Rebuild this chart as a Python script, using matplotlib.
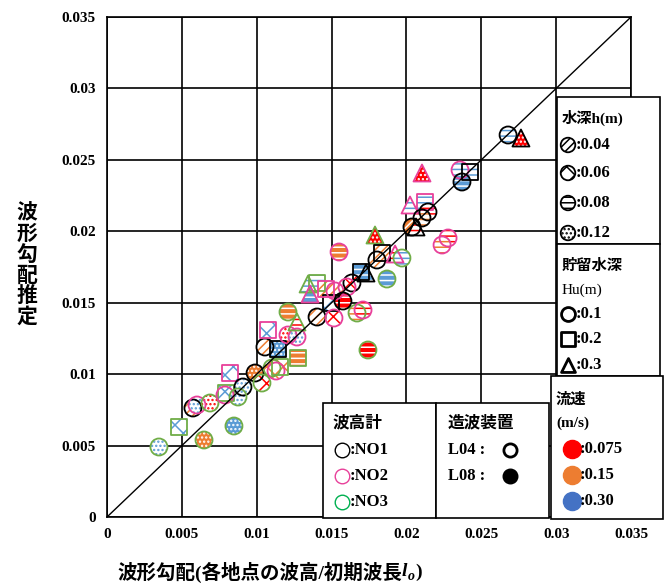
import numpy as np
import matplotlib.pyplot as plt

plt.rcParams['font.family'] = ['Liberation Serif', 'Noto Sans CJK JP']
plt.rcParams['font.weight'] = 'bold'
plt.rcParams['hatch.linewidth'] = 1.1

# observed vs. estimated wave steepness
xs = [0.00347, 0.00481, 0.00648, 0.00848, 0.00574, 0.00601, 0.00688, 0.00822, 0.00795, 0.00788,
      0.00908, 0.00875, 0.00989, 0.01035, 0.01102, 0.01129, 0.01156, 0.01276, 0.01055, 0.01142,
      0.01075, 0.01209, 0.01269, 0.01269, 0.01209, 0.01403, 0.01496, 0.01516, 0.01670, 0.01710,
      0.01743, 0.01870, 0.01550, 0.01790, 0.01837, 0.01803, 0.01924, 0.01970, 0.01697, 0.01730,
      0.01636, 0.01603, 0.01403, 0.01343, 0.01356, 0.01463, 0.01523, 0.01576, 0.02679, 0.02765,
      0.02104, 0.02358, 0.02425, 0.02371, 0.02024, 0.02124, 0.02144, 0.02104, 0.02037, 0.02064,
      0.02278, 0.02238]
ys = [0.00490, 0.00630, 0.00539, 0.00637, 0.00763, 0.00784, 0.00798, 0.01008, 0.00868, 0.00854,
      0.00910, 0.00840, 0.01008, 0.00938, 0.01043, 0.01022, 0.01050, 0.01113, 0.01190, 0.01176,
      0.01309, 0.01274, 0.01260, 0.01365, 0.01435, 0.01400, 0.01498, 0.01393, 0.01428, 0.01449,
      0.01169, 0.01666, 0.01855, 0.01974, 0.01848, 0.01799, 0.01841, 0.01813, 0.01715, 0.01708,
      0.01638, 0.01610, 0.01638, 0.01631, 0.01561, 0.01596, 0.01582, 0.01512, 0.02674, 0.02653,
      0.02408, 0.02429, 0.02415, 0.02345, 0.02184, 0.02205, 0.02135, 0.02093, 0.02030, 0.02030,
      0.01953, 0.01904]
gauge = [3, 3, 3, 3, 1, 2, 3, 2, 3, 2,
         1, 3, 1, 3, 3, 2, 3, 3, 1, 1,
         2, 2, 2, 3, 3, 1, 1, 2, 3, 2,
         3, 3, 2, 3, 1, 1, 2, 3, 1, 1,
         1, 2, 3, 3, 2, 2, 2, 1, 1, 1,
         2, 2, 1, 1, 2, 2, 1, 1, 1, 1,
         2, 2]
hu = [0.1, 0.2, 0.1, 0.1, 0.1, 0.1, 0.1, 0.2, 0.2, 0.1,
      0.1, 0.1, 0.1, 0.1, 0.1, 0.1, 0.2, 0.2, 0.1, 0.2,
      0.2, 0.1, 0.1, 0.3, 0.1, 0.1, 0.2, 0.1, 0.1, 0.1,
      0.1, 0.1, 0.1, 0.3, 0.2, 0.1, 0.3, 0.1, 0.2, 0.3,
      0.1, 0.1, 0.2, 0.3, 0.3, 0.2, 0.1, 0.1, 0.1, 0.3,
      0.3, 0.1, 0.2, 0.1, 0.3, 0.2, 0.1, 0.1, 0.1, 0.3,
      0.1, 0.1]
flow = [0.30, 0.30, 0.15, 0.30, 0.15, 0.30, 0.075, 0.30, 0.30, 0.30,
        0.30, 0.30, 0.15, 0.075, 0.15, 0.15, 0.15, 0.15, 0.15, 0.30,
        0.30, 0.075, 0.30, 0.075, 0.15, 0.15, 0.30, 0.075, 0.15, 0.075,
        0.075, 0.30, 0.15, 0.075, 0.15, 0.15, 0.075, 0.30, 0.30, 0.30,
        0.075, 0.075, 0.30, 0.30, 0.30, 0.15, 0.15, 0.075, 0.30, 0.075,
        0.075, 0.30, 0.30, 0.30, 0.30, 0.30, 0.075, 0.15, 0.15, 0.075,
        0.075, 0.15]
depth = [0.12, 0.06, 0.12, 0.12, 0.04, 0.12, 0.12, 0.06, 0.06, 0.06,
         0.12, 0.12, 0.12, 0.06, 0.06, 0.06, 0.06, 0.08, 0.04, 0.12,
         0.06, 0.12, 0.12, 0.08, 0.08, 0.04, 0.06, 0.06, 0.08, 0.08,
         0.08, 0.08, 0.08, 0.12, 0.04, 0.04, 0.08, 0.08, 0.08, 0.08,
         0.06, 0.06, 0.08, 0.08, 0.08, 0.04, 0.04, 0.08, 0.08, 0.12,
         0.12, 0.08, 0.08, 0.08, 0.08, 0.08, 0.08, 0.08, 0.04, 0.08,
         0.08, 0.08]
device = ['L04', 'L04', 'L08', 'L08', 'L04', 'L04', 'L04', 'L04', 'L04', 'L04',
          'L04', 'L04', 'L08', 'L04', 'L04', 'L04', 'L04', 'L08', 'L04', 'L08',
          'L04', 'L04', 'L04', 'L04', 'L08', 'L04', 'L04', 'L04', 'L04', 'L04',
          'L08', 'L08', 'L08', 'L08', 'L04', 'L04', 'L04', 'L04', 'L08', 'L08',
          'L04', 'L04', 'L04', 'L04', 'L08', 'L04', 'L04', 'L08', 'L04', 'L08',
          'L08', 'L04', 'L04', 'L08', 'L04', 'L04', 'L04', 'L04', 'L08', 'L04',
          'L04', 'L04']

tick_vals = [0, 0.005, 0.01, 0.015, 0.02, 0.025, 0.03, 0.035]
tick_labels = ['0', '0.005', '0.01', '0.015', '0.02', '0.025', '0.03', '0.035']

gauge_col = {1: 'black', 2: '#E8409A', 3: '#70AD47'}
flow_col = {0.075: '#FF0000', 0.15: '#ED7D31', 0.30: '#5B9BD5'}
hu_mark = {0.1: 'o', 0.2: 's', 0.3: '^'}
depth_hatch = {0.04: '////', 0.06: 'xx', 0.08: '---', 0.12: '....'}

fig = plt.figure(figsize=(6.72, 5.87), dpi=100)
ax = fig.add_axes([107/672, 70/587, 524/672, 500/587])

for i in range(len(xs)):
    m = hu_mark[hu[i]]
    s = 150 if m != 's' else 125
    fc = flow_col[flow[i]]
    if device[i] == 'L04':
        face, hcol = 'white', fc
    else:
        face, hcol = fc, 'white'
    ax.scatter(xs[i], ys[i], marker=m, s=s, facecolor=face, edgecolor=hcol,
               hatch=depth_hatch[depth[i]], linewidths=0, zorder=3)
    ax.scatter(xs[i], ys[i], marker=m, s=s, facecolor='none',
               edgecolor=gauge_col[gauge[i]], linewidths=1.3, zorder=4)

ax.plot([0, 0.035], [0, 0.035], color='black', lw=1, zorder=5)

ax.set_xlim(0, 0.035)
ax.set_ylim(0, 0.035)
ax.set_xticks(tick_vals)
ax.set_xticklabels(tick_labels)
ax.set_yticks(tick_vals)
ax.set_yticklabels(tick_labels)
ax.tick_params(length=0, labelsize=11, pad=8)
ax.grid(True, color='black', lw=1.2)
ax.set_axisbelow(True)
for sp in ax.spines.values():
    sp.set_linewidth(1.2)

# axis titles
xl = fig.text(117/672, 1 - 572/587, '波形勾配(各地点の波高/初期波長', fontsize=14,
              va='center', ha='left')
fig.canvas.draw()
bb = xl.get_window_extent()
lo = fig.text(bb.x1/672, 1 - 572/587, 'l', fontsize=14, style='italic',
              va='center', ha='left')
fig.canvas.draw()
bb2 = lo.get_window_extent()
sub = fig.text(bb2.x1/672 + 0.001, 1 - 577/587, 'o', fontsize=10, style='italic',
               va='center', ha='left')
fig.canvas.draw()
bb3 = sub.get_window_extent()
fig.text(bb3.x1/672, 1 - 572/587, ')', fontsize=14, va='center', ha='left')

fig.text(27/672, 1 - 266/587, '\n'.join('波形勾配推定'), fontsize=15,
         ha='center', va='center', linespacing=1.05)

# legend boxes drawn in pixel space
lg = fig.add_axes([0, 0, 1, 1], zorder=10)
lg.set_xlim(0, 672)
lg.set_ylim(587, 0)
lg.axis('off')


def box(x0, y0, x1, y1):
    lg.add_patch(plt.Rectangle((x0, y0), x1 - x0, y1 - y0, facecolor='white',
                               edgecolor='black', lw=1.2))


box(557, 97, 660, 244)
box(557, 244, 660, 376)
box(551, 376, 663, 519)
box(323, 403, 436, 518)
box(436, 403, 549, 518)

fs = 11
lg.text(562, 118, '水深h(m)', fontsize=fs, va='center')
for yy, d in zip([145, 173, 203, 233], [0.04, 0.06, 0.08, 0.12]):
    lg.scatter(568, yy, s=110, marker='o', facecolor='white', edgecolor='black',
               hatch=depth_hatch[d], linewidths=0)
    lg.scatter(568, yy, s=110, marker='o', facecolor='none', edgecolor='black',
               linewidths=1.3)
    lg.text(576, yy, ':%.2f' % d, fontsize=fs + 1, va='center')

lg.text(562, 266, '貯留水深', fontsize=fs, va='center')
lg.text(562, 290, 'Hu(m)', fontsize=fs, va='center', fontweight='normal')
for yy, h in zip([314, 339, 365], [0.1, 0.2, 0.3]):
    lg.scatter(568, yy, s=100, marker=hu_mark[h], facecolor='white',
               edgecolor='black', linewidths=2)
    lg.text(576, yy, ':%g' % h, fontsize=fs + 1, va='center')

lg.text(556, 400, '流速', fontsize=fs, va='center')
lg.text(556, 423, '(m/s)', fontsize=fs, va='center')
for yy, f, lab in zip([449, 475, 501], [0.075, 0.15, 0.30], ['0.075', '0.15', '0.30']):
    lg.scatter(572, yy, s=170, marker='o', color='#4472C4' if f == 0.30 else flow_col[f])
    lg.text(580, yy, ':' + lab, fontsize=fs + 1, va='center')

lg.text(333, 423, '波高計', fontsize=fs + 1, va='center')
for yy, g in zip([450, 476, 502], [1, 2, 3]):
    lg.scatter(342, yy, s=110, marker='o', facecolor='white',
               edgecolor=gauge_col[g] if g != 3 else '#00B050', linewidths=1)
    lg.text(350, yy, ':NO%d' % g, fontsize=fs + 1, va='center')

lg.text(448, 423, '造波装置', fontsize=fs + 1, va='center')
lg.text(448, 450, 'L04 :', fontsize=fs + 1, va='center')
lg.scatter(510, 450, s=90, marker='o', facecolor='white', edgecolor='black', linewidths=2)
lg.text(448, 476, 'L08 :', fontsize=fs + 1, va='center')
lg.scatter(510, 476, s=110, marker='o', color='black')

fig.savefig('out.png', dpi=100)
